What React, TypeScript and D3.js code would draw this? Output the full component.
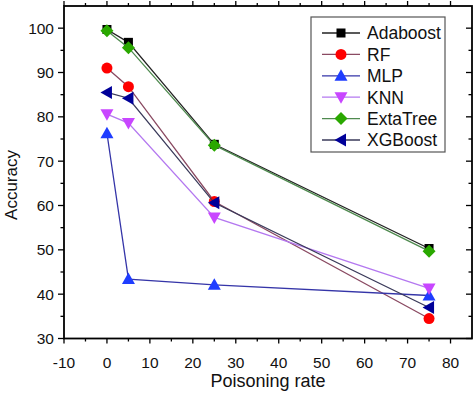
import React from "react";
import * as d3 from "d3";

const xValues = [0, 5, 25, 75];
const seriesNames = ["Adaboost", "RF", "MLP", "KNN", "ExtaTree", "XGBoost"];
const adaboost = [99.7, 96.8, 73.8, 50.3];
const rf = [91.0, 86.8, 60.9, 34.5];
const mlp = [76.3, 43.4, 42.1, 39.7];
const knn = [80.6, 78.6, 57.3, 41.3];
const extaTree = [99.4, 95.6, 73.6, 49.7];
const xgboost = [85.5, 84.2, 60.6, 37.0];
const xTicks = [-10, 0, 10, 20, 30, 40, 50, 60, 70, 80];
const yTicks = [30, 40, 50, 60, 70, 80, 90, 100];

const W = 474, H = 398;
const L = 64, R = 472, T = 6, B = 338.5;
const FONT = "'Liberation Sans', Arial, sans-serif";

const styles = [
  { line: "#222222", fill: "#000000", shape: "square" },
  { line: "#8a4a62", fill: "#ff0000", shape: "circle" },
  { line: "#3535a8", fill: "#1f3dff", shape: "up" },
  { line: "#b478f0", fill: "#c846ff", shape: "down" },
  { line: "#4f8a4f", fill: "#2aa800", shape: "diamond" },
  { line: "#3a3a5a", fill: "#000099", shape: "left" },
];

function Marker({ x, y, shape, fill }: { x: number; y: number; shape: string; fill: string }) {
  if (shape === "square") return <rect x={x - 4.5} y={y - 4.5} width={9} height={9} fill={fill} />;
  if (shape === "circle") return <circle cx={x} cy={y} r={5.5} fill={fill} />;
  let pts: number[][] = [];
  if (shape === "up") pts = [[x, y - 6.5], [x + 6.5, y + 5], [x - 6.5, y + 5]];
  if (shape === "down") pts = [[x, y + 6.5], [x + 6.5, y - 5], [x - 6.5, y - 5]];
  if (shape === "left") pts = [[x - 6.5, y], [x + 5, y - 6.5], [x + 5, y + 6.5]];
  if (shape === "diamond") pts = [[x, y - 6.5], [x + 6.5, y], [x, y + 6.5], [x - 6.5, y]];
  return <polygon points={pts.map((p) => p.join(",")).join(" ")} fill={fill} />;
}

export default function App() {
  const x = d3.scaleLinear().domain([-10, 85]).range([L, R]);
  const y = d3.scaleLinear().domain([30, 105]).range([B, T]);
  const data = [adaboost, rf, mlp, knn, extaTree, xgboost];
  const line = d3
    .line<number>()
    .x((_, i) => x(xValues[i]))
    .y((d) => y(d));

  const xMinor = d3.range(-5, 85, 10);
  const yMinor = d3.range(35, 105, 10);

  return (
    <svg width={W} height={H} style={{ position: "absolute", left: 0, top: 0, background: "#fff" }}>
      <rect x={0} y={0} width={W} height={H} fill="#fff" />
      <rect x={L} y={T} width={R - L} height={B - T} fill="none" stroke="#000" strokeWidth={1.8} />
      {xTicks.map((t) => (
        <g key={"xb" + t}>
          <line x1={x(t)} x2={x(t)} y1={B} y2={B + 5} stroke="#000" strokeWidth={1.3} />
          <line x1={x(t)} x2={x(t)} y1={T} y2={T - 5} stroke="#000" strokeWidth={1.3} />
          <text x={x(t)} y={368} fontSize={15.5} fontFamily={FONT} textAnchor="middle" fill="#111">
            {t}
          </text>
        </g>
      ))}
      {xMinor.map((t) => (
        <g key={"xm" + t}>
          <line x1={x(t)} x2={x(t)} y1={B} y2={B + 3} stroke="#000" strokeWidth={1.3} />
          <line x1={x(t)} x2={x(t)} y1={T} y2={T - 3} stroke="#000" strokeWidth={1.3} />
        </g>
      ))}
      {yTicks.map((t) => (
        <g key={"y" + t}>
          <line x1={L} x2={L - 6} y1={y(t)} y2={y(t)} stroke="#000" strokeWidth={1.3} />
          <line x1={R} x2={R - 6} y1={y(t)} y2={y(t)} stroke="#000" strokeWidth={1.3} />
          <text x={54} y={y(t)} dy="0.36em" fontSize={15.5} fontFamily={FONT} textAnchor="end" fill="#111">
            {t}
          </text>
        </g>
      ))}
      {yMinor.map((t) => (
        <g key={"ym" + t}>
          <line x1={L} x2={L - 3.5} y1={y(t)} y2={y(t)} stroke="#000" strokeWidth={1.3} />
          <line x1={R} x2={R - 3.5} y1={y(t)} y2={y(t)} stroke="#000" strokeWidth={1.3} />
        </g>
      ))}
      <text x={(L + R) / 2} y={387} fontSize={18} fontFamily={FONT} textAnchor="middle" fill="#111">
        Poisoning rate
      </text>
      <text
        transform={`translate(17,185) rotate(-90)`}
        fontSize={17}
        fontFamily={FONT}
        textAnchor="middle"
        fill="#111"
      >
        Accuracy
      </text>
      {data.map((vals, si) => (
        <g key={"s" + si}>
          <path d={line(vals) || ""} fill="none" stroke={styles[si].line} strokeWidth={1.3} />
          {vals.map((v, i) => (
            <Marker key={i} x={x(xValues[i])} y={y(v)} shape={styles[si].shape} fill={styles[si].fill} />
          ))}
        </g>
      ))}
      <rect x={311} y={17} width={134} height={135} fill="#fff" stroke="#555" strokeWidth={1.2} />
      {seriesNames.map((n, i) => {
        const ly = 33 + i * 21.4;
        return (
          <g key={"l" + n}>
            <line x1={322} x2={360} y1={ly} y2={ly} stroke={styles[i].line} strokeWidth={1.3} />
            <Marker x={341} y={ly} shape={styles[i].shape} fill={styles[i].fill} />
            <text x={367} y={ly} dy="0.36em" fontSize={17.5} fontFamily={FONT} fill="#111">
              {n}
            </text>
          </g>
        );
      })}
    </svg>
  );
}
